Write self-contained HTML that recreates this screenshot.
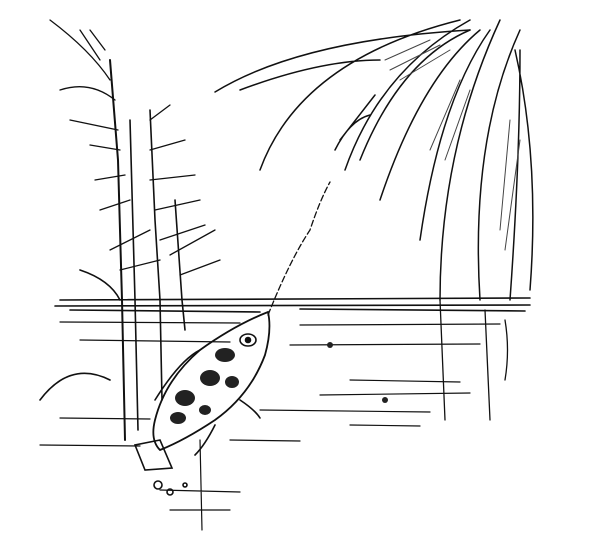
<!DOCTYPE html>
<html><head><style>html,body{margin:0;padding:0;background:#fff;width:600px;height:544px;overflow:hidden}</style></head>
<body>
<svg width="600" height="544" viewBox="0 0 600 544" xmlns="http://www.w3.org/2000/svg" fill="none" stroke="#111" stroke-width="1.6" stroke-linecap="round">
<!-- water surface -->
<path d="M60 300 L530 298 M55 306 L530 305 M70 310 L260 312 M300 309 L525 311"/>
<path d="M60 322 L240 323 M300 325 L500 324 M80 340 L230 342 M290 345 L480 344 M350 380 L460 382 M320 395 L470 393 M60 418 L150 419 M260 410 L430 412 M40 445 L140 446 M230 440 L300 441 M350 425 L420 426" stroke-width="1.2"/>
<!-- left plants stems -->
<path d="M110 60 L118 160 L122 300 L125 440" stroke-width="2"/>
<path d="M130 120 L135 300 L138 430"/>
<path d="M150 110 L155 220 L160 300 L162 400"/>
<path d="M175 200 L182 300 L185 330"/>
<path d="M50 20 Q90 50 110 80 M80 30 L100 60 M90 30 L105 50 M60 90 Q90 80 115 100 M70 120 L118 130 M90 145 L120 150 M95 180 L125 175 M100 210 L130 200 M110 250 L150 230 M120 270 L160 260 M150 120 L170 105 M150 150 L185 140 M150 180 L195 175 M155 210 L200 200 M160 240 L205 225 M170 255 L215 230 M180 275 L220 260" stroke-width="1.3"/>
<path d="M80 270 Q110 280 120 300 M40 400 Q70 360 110 380"/>
<!-- right leaves -->
<path d="M215 92 Q300 40 470 30 M240 90 Q320 60 380 60 M260 170 Q300 60 460 20" stroke-width="1.5"/>
<path d="M345 170 Q380 70 470 20 M360 160 Q400 60 470 30 M380 200 Q420 80 480 30 M420 240 Q440 100 490 30" stroke-width="1.5"/>
<path d="M440 300 Q440 150 500 20 M480 300 Q470 140 520 30 M510 300 Q520 160 520 50 M530 290 Q540 160 515 50" stroke-width="1.5"/>
<path d="M385 60 L430 40 M390 70 L440 45 M400 80 L450 50 M430 150 L460 80 M445 160 L470 90 M500 230 L510 120 M505 250 L520 140" stroke-width="1" stroke="#444"/>
<path d="M340 140 L375 95 M335 150 Q350 120 370 115" stroke-width="1.5"/>
<path d="M440 300 L445 420 M485 310 L490 420 M505 320 Q510 350 505 380" stroke-width="1.3"/>
<!-- water jet -->
<path d="M268 315 Q290 260 310 230 Q320 200 330 182" stroke-width="1.3" stroke-dasharray="6 3"/>
<!-- fish -->
<path d="M268 312 Q235 325 200 350 Q165 380 155 420 Q150 440 160 450 Q185 440 215 420 Q250 395 265 355 Q272 330 268 312Z" stroke-width="1.8"/>
<path d="M160 440 L135 445 L145 470 L172 468 Z"/>
<path d="M200 350 Q180 360 155 400 M240 400 Q255 410 260 418 M215 425 Q205 445 195 455"/>
<ellipse cx="248" cy="340" rx="8" ry="6"/>
<circle cx="248" cy="340" r="2.5" fill="#111"/>
<g fill="#222" stroke="none">
<ellipse cx="225" cy="355" rx="10" ry="7"/>
<ellipse cx="210" cy="378" rx="10" ry="8"/>
<ellipse cx="232" cy="382" rx="7" ry="6"/>
<ellipse cx="185" cy="398" rx="10" ry="8"/>
<ellipse cx="178" cy="418" rx="8" ry="6"/>
<ellipse cx="205" cy="410" rx="6" ry="5"/>
<circle cx="330" cy="345" r="3"/><circle cx="385" cy="400" r="3"/>
</g>
<path d="M200 440 L202 530 M160 490 L240 492 M170 510 L230 510" stroke-width="1.2"/>
<circle cx="158" cy="485" r="4"/><circle cx="170" cy="492" r="3"/><circle cx="185" cy="485" r="2"/>
</svg>
</body></html>
